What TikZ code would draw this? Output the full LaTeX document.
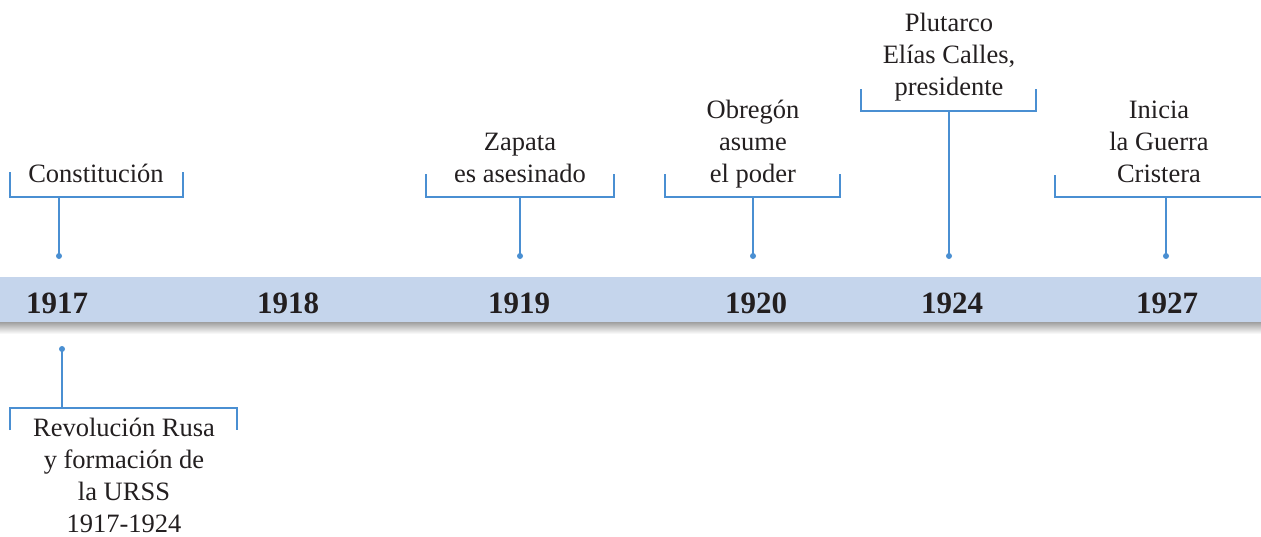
\documentclass[tikz,border=0pt]{standalone}
\usepackage{fontspec}
\setmainfont{Liberation Serif}
\definecolor{band}{HTML}{C5D5EC}
\definecolor{lineblue}{HTML}{4A8FD2}
\definecolor{ink}{HTML}{231F20}
\tikzset{
  lbl/.style={font=\fontsize{26.5}{32}\selectfont, text=ink, align=center, inner sep=0pt, anchor=base},
  yr/.style={font=\fontsize{31}{36}\selectfont\bfseries, text=ink, inner sep=0pt, anchor=base},
  brk/.style={draw=lineblue, line width=1.4pt},
  stem/.style={draw=lineblue, line width=1.8pt},
  dotc/.style={circle, fill=lineblue, inner sep=0pt, minimum size=6pt}
}
\begin{document}
\begin{tikzpicture}[x=1pt,y=-1pt]
\useasboundingbox (0,0) rectangle (1261,536);
% band
\shade[top color=gray!75, bottom color=white] (0,322) rectangle (1261,334);
\fill[band] (0,277) rectangle (1261,322);
% years
\node[yr] (y1917) at (57,313) {1917};
\node[yr] (y1918) at (288,313) {1918};
\node[yr] (y1919) at (519,313) {1919};
\node[yr] (y1920) at (756,313) {1920};
\node[yr] (y1924) at (952,313) {1924};
\node[yr] (y1927) at (1167,313) {1927};
% labels (base = baseline of last line)
\node[lbl] (tconst) at (96,182) {Constitución};
\node[lbl] (tzap) at (520,182) {Zapata\\es asesinado};
\node[lbl] (tobr) at (753,182) {Obregón\\asume\\el poder};
\node[lbl] (tplu) at (949,95) {Plutarco\\Elías Calles,\\presidente};
\node[lbl] (tini) at (1159,182) {Inicia\\la Guerra\\Cristera};
\node[lbl] (trev) at (124,532) {Revolución Rusa\\y formación de\\la URSS\\1917-1924};
% dots
\node[dotc] (d1) at (59,256) {};
\node[dotc] (d2) at (520,256) {};
\node[dotc] (d3) at (753,256) {};
\node[dotc] (d4) at (949,256) {};
\node[dotc] (d5) at (1166,256) {};
\node[dotc] (d6) at (62,349) {};
% bracket junctions
\coordinate (j1) at (59,197);
\coordinate (j2) at (520,197);
\coordinate (j3) at (753,197);
\coordinate (j4) at (949,111);
\coordinate (j5) at (1166,197);
\coordinate (j6) at (62,408);
% brackets
\draw[brk] (10,172) -- (10,197) -- (183,197) -- (183,172);
\draw[brk] (426,174) -- (426,197) -- (614,197) -- (614,174);
\draw[brk] (665,174) -- (665,197) -- (840,197) -- (840,174);
\draw[brk] (861,89) -- (861,111) -- (1036,111) -- (1036,89);
\draw[brk] (1055,175) -- (1055,197) -- (1261,197);
\draw[brk] (10,430) -- (10,408) -- (237,408) -- (237,430);
% stems
\draw[stem] (j1) -- (d1.center);
\draw[stem] (j2) -- (d2.center);
\draw[stem] (j3) -- (d3.center);
\draw[stem] (j4) -- (d4.center);
\draw[stem] (j5) -- (d5.center);
\draw[stem] (j6) -- (d6.center);
\end{tikzpicture}
\end{document}
